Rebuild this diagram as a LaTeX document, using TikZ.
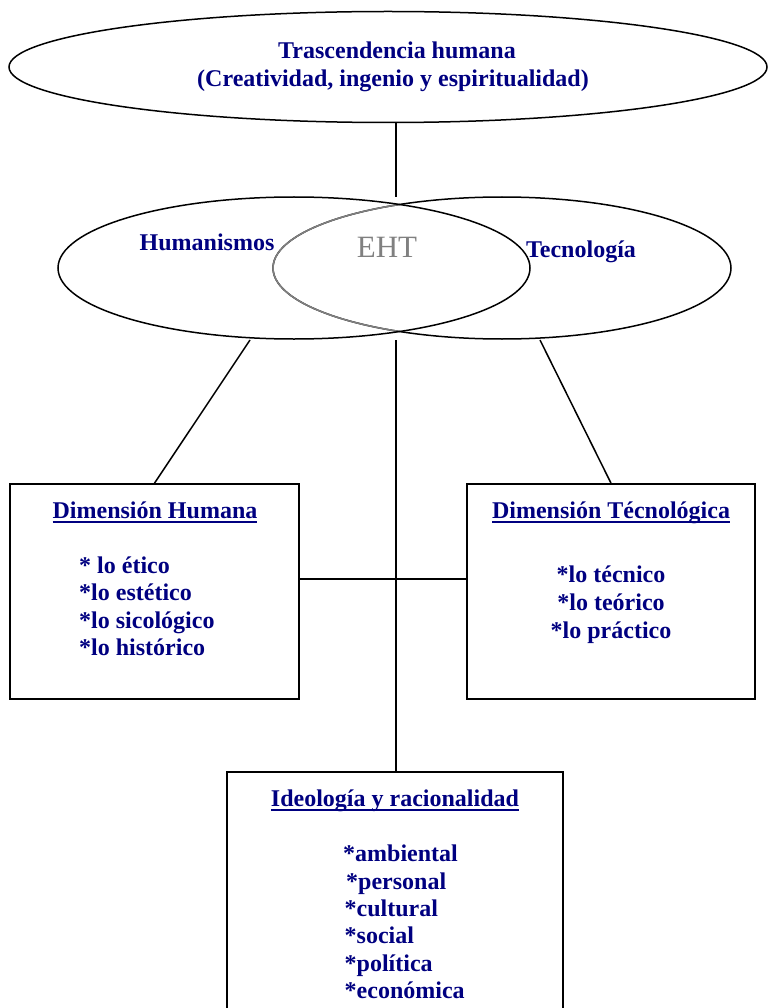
\documentclass[tikz,border=0pt]{standalone}
\usepackage{fontspec}
\setmainfont{Liberation Serif}
\usetikzlibrary{shapes.geometric}
\definecolor{navy}{RGB}{0,0,128}
\definecolor{ehtgray}{RGB}{128,128,128}
\newcommand\myul[1]{\setbox0\hbox{#1}\rlap{\rule[-5pt]{\wd0}{2.3pt}}\box0}
\begin{document}
\begin{tikzpicture}[x=1pt,y=-1pt,
  lbl/.style={font=\bfseries\fontsize{24}{28}\selectfont, text=navy, inner sep=0pt},
  itm/.style={lbl, anchor=base west},
  itc/.style={lbl, anchor=base},
  oval/.style={draw, ellipse, inner sep=0pt, line width=1.5pt},
  box/.style={draw, rectangle, inner sep=0pt, line width=1.6pt},
  link/.style={line width=1.5pt}]
\useasboundingbox (0,0) rectangle (769,1008);
% ellipses
\node[oval, minimum width=758, minimum height=111] (top) at (388,67) {};
\node[lbl, anchor=base] (t1) at (397,59) {Trascendencia humana};
\node[lbl, anchor=base] (t2) at (393,87) {(Creatividad, ingenio y espiritualidad)};
\node[oval, minimum width=458, minimum height=142] (tec) at (502,268) {};
\begin{scope}
  \clip (294,268) ellipse [x radius=236, y radius=71];
  \draw[ehtgray, line width=1.5pt] (502,268) ellipse [x radius=229, y radius=71];
\end{scope}
\node[oval, minimum width=472, minimum height=142] (hum) at (294,268) {};
\node[lbl, anchor=base] (hl) at (207,250) {Humanismos};
\node[lbl, anchor=base] (tl) at (581,258) {Tecnología};
\node[anchor=base, inner sep=0pt, text=ehtgray, font=\fontsize{31}{34}\selectfont] (eht) at (387,257) {EHT};
% boxes
\node[box, minimum width=289, minimum height=215] (dh) at (154.5,591.5) {};
\node[box, minimum width=288, minimum height=215] (dt) at (611,591.5) {};
\node[box, minimum width=336, minimum height=270] (ir) at (395,907) {};
% box texts
\node[lbl, anchor=base] (dhh) at (155,518) {\myul{Dimensión Humana}};
\node[itm] (dh1) at (79,573) {* lo ético};
\node[itm] (dh2) at (79,600) {*lo estético};
\node[itm] (dh3) at (79,628) {*lo sicológico};
\node[itm] (dh4) at (79,655) {*lo histórico};
\node[lbl, anchor=base] (dth) at (611,518) {\myul{Dimensión Técnológica}};
\node[itc] (dt1) at (611,582) {*lo técnico};
\node[itc] (dt2) at (611,610) {*lo teórico};
\node[itc] (dt3) at (611,638) {*lo práctico};
\node[lbl, anchor=base] (irh) at (395,806) {\myul{Ideología y racionalidad}};
\node[itm] (ir1) at (343,861) {*ambiental};
\node[itm] (ir2) at (346,889) {*personal};
\node[itm] (ir3) at (344.5,916) {*cultural};
\node[itm] (ir4) at (344.5,943.5) {*social};
\node[itm] (ir5) at (344.5,971) {*política};
\node[itm] (ir6) at (344.5,998.5) {*económica};
% connectors
\coordinate (c1) at (396,197);
\coordinate (c2) at (396,340);
\coordinate (c3) at (250,340);
\coordinate (c4) at (540,340);
\coordinate (c5) at (396,579);
\draw[link] (top.south -| c1) -- (c1);
\draw[link] (c2) -- (c2 |- ir.north);
\draw[link] (c3) -- (dh.north);
\draw[link] (c4) -- (dt.north);
\draw[link] (dh.east |- c5) -- (dt.west |- c5);
\end{tikzpicture}
\end{document}
